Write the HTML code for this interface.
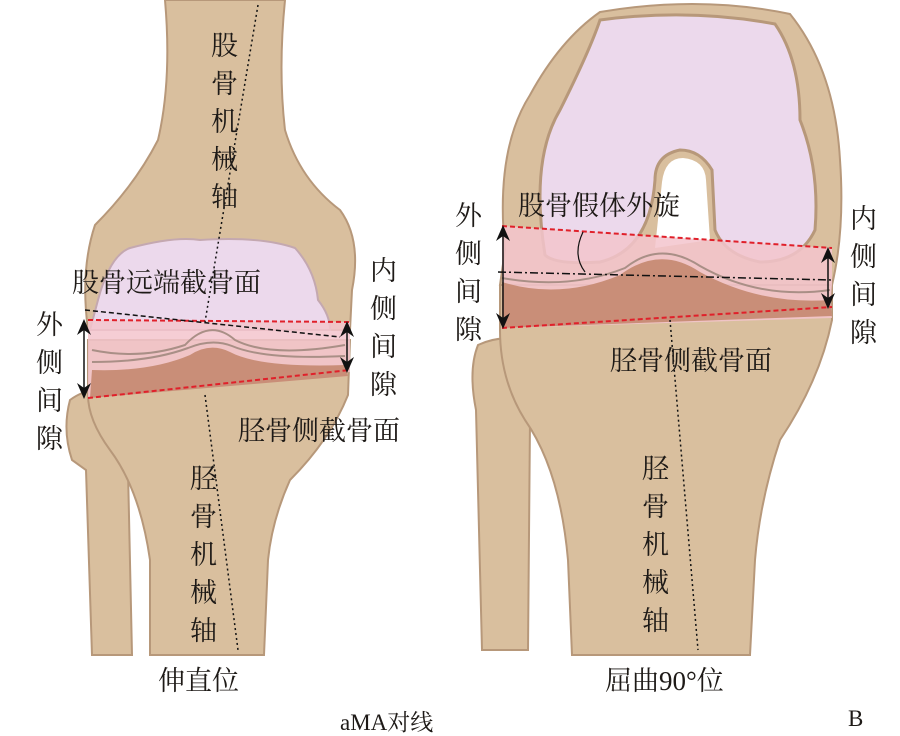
<!DOCTYPE html>
<html><head><meta charset="utf-8"><style>
html,body{margin:0;padding:0;background:#fff;}
svg{display:block;}
text{font-family:"Liberation Serif","Noto Serif CJK SC",serif;fill:#1e1a17;}
</style></head><body>
<svg width="900" height="736" viewBox="0 0 900 736" xmlns="http://www.w3.org/2000/svg">
<defs>
<marker id="ah" markerWidth="16" markerHeight="16" refX="13" refY="8" orient="auto-start-reverse" markerUnits="userSpaceOnUse"><path d="M0,1 L16,8 L0,15 L5,8 Z" fill="#111"/></marker>
</defs>
<!-- LEFT KNEE -->
<g stroke="#b7987a" stroke-width="2">
<path d="M70,400 Q62,430 72,460 L86,470 L92,655 L132,655 L128,470 L110,395 Q90,385 70,400Z" fill="#d9bf9e"/>
<path d="M88,340 L350,340 L348,395 Q330,440 290,480 Q272,520 268,560 L264,655 L150,655 L150,560 Q140,490 110,450 Q88,420 88,395Z" fill="#d9bf9e"/>
<path d="M165,0 L285,0 Q278,70 285,130 Q300,180 340,210 Q362,240 352,290 L350,330 L88,330 Q80,270 95,225 Q135,185 158,140 Q172,80 165,0Z" fill="#d9bf9e"/>
</g>
<path d="M98,300 Q110,255 130,248 Q175,236 200,240 Q260,236 295,248 Q315,270 318,300 Q330,315 330,330 L90,330 Z" fill="#ecd9ec" stroke="#c4a8b0" stroke-width="2"/>
<path d="M88,320 L350,322 L350,372 L88,398 Z" fill="#f3c4cc" opacity="0.85"/>
<path d="M92,370 Q150,372 190,355 Q210,342 230,352 Q260,368 345,365 L348,376 L90,398Z" fill="#c98e78"/>
<path d="M92,362 Q150,362 188,348 Q212,338 232,346 Q265,360 345,356" fill="none" stroke="#a98f86" stroke-width="2"/>
<path d="M92,350 Q140,360 185,345 Q210,318 235,340 Q270,358 345,345" fill="none" stroke="#a98f86" stroke-width="2"/>
<line x1="88" y1="320" x2="350" y2="322" stroke="#e0202a" stroke-width="2" stroke-dasharray="5,3"/>
<line x1="88" y1="398" x2="350" y2="370" stroke="#e0202a" stroke-width="2" stroke-dasharray="5,3"/>
<line x1="85" y1="310" x2="340" y2="337" stroke="#111" stroke-width="1.5" stroke-dasharray="5,3"/>
<line x1="258" y1="5" x2="205" y2="322" stroke="#111" stroke-width="1.5" stroke-dasharray="2,3"/>
<line x1="205" y1="395" x2="238" y2="650" stroke="#111" stroke-width="1.5" stroke-dasharray="2,3"/>
<line x1="84" y1="322" x2="84" y2="396" stroke="#111" stroke-width="1.5" marker-start="url(#ah)" marker-end="url(#ah)"/>
<line x1="347" y1="324" x2="347" y2="370" stroke="#111" stroke-width="1.5" marker-start="url(#ah)" marker-end="url(#ah)"/>

<!-- RIGHT KNEE -->
<g stroke="#b7987a" stroke-width="2">
<path d="M478,345 Q468,370 476,410 L482,650 L528,650 L530,420 L540,350 Q510,330 478,345Z" fill="#d9bf9e"/>
<path d="M500,285 L832,285 L832,320 Q820,380 780,440 Q760,500 755,560 L750,655 L572,655 L568,560 Q560,470 525,420 Q500,380 500,330Z" fill="#d9bf9e"/>
<path d="M505,250 Q495,150 530,95 Q560,40 600,12 Q700,-5 790,14 Q835,70 840,160 Q845,230 832,285 L500,285Z" fill="#d9bf9e"/>
</g>
<path d="M545,255 Q530,160 560,110 Q590,50 600,20 Q690,8 775,24 Q800,60 800,120 Q820,170 815,230 Q800,262 760,262 Q725,255 715,230 L712,170 Q700,150 680,150 Q655,155 655,180 Q650,250 600,262 Q555,265 545,255Z" fill="#ecd9ec" stroke="#b7987a" stroke-width="3"/>
<path d="M662,182 Q665,158 683,158 Q705,160 706,180 L710,240 L655,248Z" fill="#fff"/>
<path d="M502,226 L832,248 L832,285 Q830,300 832,318 L502,328Z" fill="#f3c4cc" opacity="0.85"/>
<path d="M502,282 Q560,300 620,275 Q660,245 700,272 Q760,305 830,300 L832,316 L502,328Z" fill="#c98e78"/>
<path d="M502,278 Q570,290 625,268 Q660,240 700,266 Q760,300 830,290" fill="none" stroke="#a98f86" stroke-width="2"/>
<line x1="502" y1="226" x2="832" y2="248" stroke="#e0202a" stroke-width="2" stroke-dasharray="5,3"/>
<line x1="502" y1="328" x2="832" y2="307" stroke="#e0202a" stroke-width="2" stroke-dasharray="5,3"/>
<line x1="498" y1="272" x2="832" y2="280" stroke="#111" stroke-width="1.5" stroke-dasharray="8,3,2,3"/>
<path d="M583,232 Q572,255 585,272" fill="none" stroke="#111" stroke-width="1.2"/>
<line x1="670" y1="320" x2="698" y2="650" stroke="#111" stroke-width="1.5" stroke-dasharray="2,3"/>
<line x1="503" y1="228" x2="503" y2="326" stroke="#111" stroke-width="1.5" marker-start="url(#ah)" marker-end="url(#ah)"/>
<line x1="828" y1="250" x2="828" y2="306" stroke="#111" stroke-width="1.5" marker-start="url(#ah)" marker-end="url(#ah)"/>

<!-- TEXT -->
<g font-size="27">
<text x="211" y="55">股</text><text x="211" y="93">骨</text><text x="211" y="131">机</text><text x="211" y="169">械</text><text x="211" y="206">轴</text>
<text x="72" y="292">股骨远端截骨面</text>
<text x="370" y="280">内</text><text x="370" y="318">侧</text><text x="370" y="356">间</text><text x="370" y="394">隙</text>
<text x="36" y="334">外</text><text x="36" y="372">侧</text><text x="36" y="410">间</text><text x="36" y="448">隙</text>
<text x="238" y="440">胫骨侧截骨面</text>
<text x="190" y="488">胫</text><text x="190" y="526">骨</text><text x="190" y="564">机</text><text x="190" y="602">械</text><text x="190" y="640">轴</text>
<text x="158" y="690">伸直位</text>
<text x="518" y="215">股骨假体外旋</text>
<text x="455" y="225">外</text><text x="455" y="263">侧</text><text x="455" y="301">间</text><text x="455" y="339">隙</text>
<text x="850" y="228">内</text><text x="850" y="266">侧</text><text x="850" y="304">间</text><text x="850" y="342">隙</text>
<text x="610" y="370">胫骨侧截骨面</text>
<text x="642" y="478">胫</text><text x="642" y="516">骨</text><text x="642" y="554">机</text><text x="642" y="592">械</text><text x="642" y="630">轴</text>
<text x="605" y="690">屈曲90°位</text>
</g>
<text x="340" y="730" font-size="23">aMA对线</text>
<text x="848" y="726" font-size="23">B</text>
</svg>
</body></html>
